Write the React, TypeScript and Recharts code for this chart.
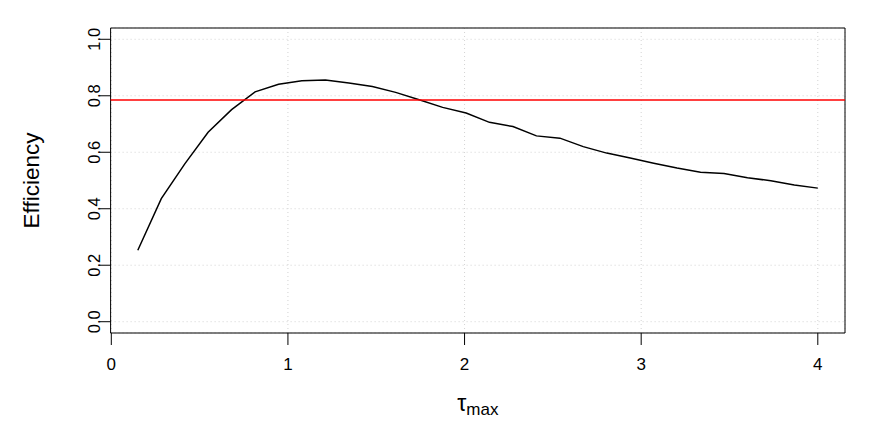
import React from 'react';
import { LineChart, Line, XAxis, YAxis, CartesianGrid, ReferenceLine, ReferenceArea } from 'recharts';

// tau_max values along the curve
const tauMax = [
  0.15, 0.283, 0.416, 0.548, 0.681, 0.814, 0.947, 1.079, 1.212, 1.345,
  1.478, 1.61, 1.743, 1.876, 2.009, 2.141, 2.274, 2.407, 2.54, 2.672,
  2.805, 2.938, 3.071, 3.203, 3.336, 3.469, 3.602, 3.734, 3.867, 4.0,
];

const efficiency = [
  0.253, 0.436, 0.559, 0.671, 0.751, 0.814, 0.841, 0.853, 0.856, 0.845,
  0.833, 0.812, 0.786, 0.759, 0.739, 0.706, 0.691, 0.658, 0.65, 0.62,
  0.597, 0.58, 0.561, 0.544, 0.529, 0.525, 0.51, 0.499, 0.484, 0.473,
];

const refEfficiency = 0.7854;

const xTicks = [0, 1, 2, 3, 4];
const yTicks = [0, 0.2, 0.4, 0.6, 0.8, 1.0];

// R-style 4% padded limits
const xLim: [number, number] = [-0.004, 4.154];
const yLim: [number, number] = [-0.04, 1.04];

const data = tauMax.map((t, i) => ({ tau: t, eff: efficiency[i] }));

const font = '"Liberation Sans", Arial, Helvetica, sans-serif';

function YTick(props: any) {
  const { x, y, payload } = props;
  return (
    <text
      transform={`translate(${x + 2.4},${y}) rotate(-90)`}
      textAnchor="middle"
      fontSize={16.5}
      fill="#000"
      fontFamily={font}
    >
      {Number(payload.value).toFixed(1)}
    </text>
  );
}

function YLabel(props: any) {
  const { viewBox } = props;
  const cy = viewBox.y + viewBox.height / 2;
  return (
    <text
      transform={`translate(31,${cy}) rotate(-90)`}
      textAnchor="middle"
      fontSize={22.5}
      fill="#000"
      fontFamily={font}
    >
      Efficiency
    </text>
  );
}

function XLabel(props: any) {
  const { viewBox } = props;
  const cx = viewBox.x + viewBox.width / 2;
  return (
    <text x={cx} y={viewBox.y + 78} textAnchor="middle" fill="#000" fontFamily={font}>
      <tspan fontSize={23}>τ</tspan>
      <tspan fontSize={17} dy={4}>max</tspan>
    </text>
  );
}

export default function App() {
  return (
    <LineChart
      width={864}
      height={414}
      data={data}
      margin={{ top: 20, right: 27, bottom: 0, left: 0 }}
      style={{ fontFamily: font }}
    >
      <CartesianGrid stroke="#d3d3d3" strokeDasharray="1 3" />
      <XAxis
        type="number"
        dataKey="tau"
        domain={xLim}
        ticks={xTicks}
        allowDataOverflow
        height={89}
        axisLine={false}
        tickSize={12}
        tickMargin={13}
        tickLine={{ stroke: '#000' }}
        tick={{ fontSize: 17, fill: '#000' }}
        label={<XLabel />}
      />
      <YAxis
        type="number"
        domain={yLim}
        ticks={yTicks}
        allowDataOverflow
        width={102.6}
        axisLine={false}
        tickSize={11}
        tickMargin={2}
        tickLine={{ stroke: '#000' }}
        tick={<YTick />}
        label={<YLabel />}
      />
      <ReferenceArea
        x1={xLim[0]}
        x2={xLim[1]}
        y1={yLim[0]}
        y2={yLim[1]}
        fill="none"
        stroke="#000"
        strokeWidth={1}
      />
      <Line
        type="linear"
        dataKey="eff"
        stroke="#000"
        strokeWidth={1.5}
        dot={false}
        isAnimationActive={false}
      />
      <ReferenceLine y={refEfficiency} stroke="#ff0000" strokeWidth={1.5} />
    </LineChart>
  );
}
